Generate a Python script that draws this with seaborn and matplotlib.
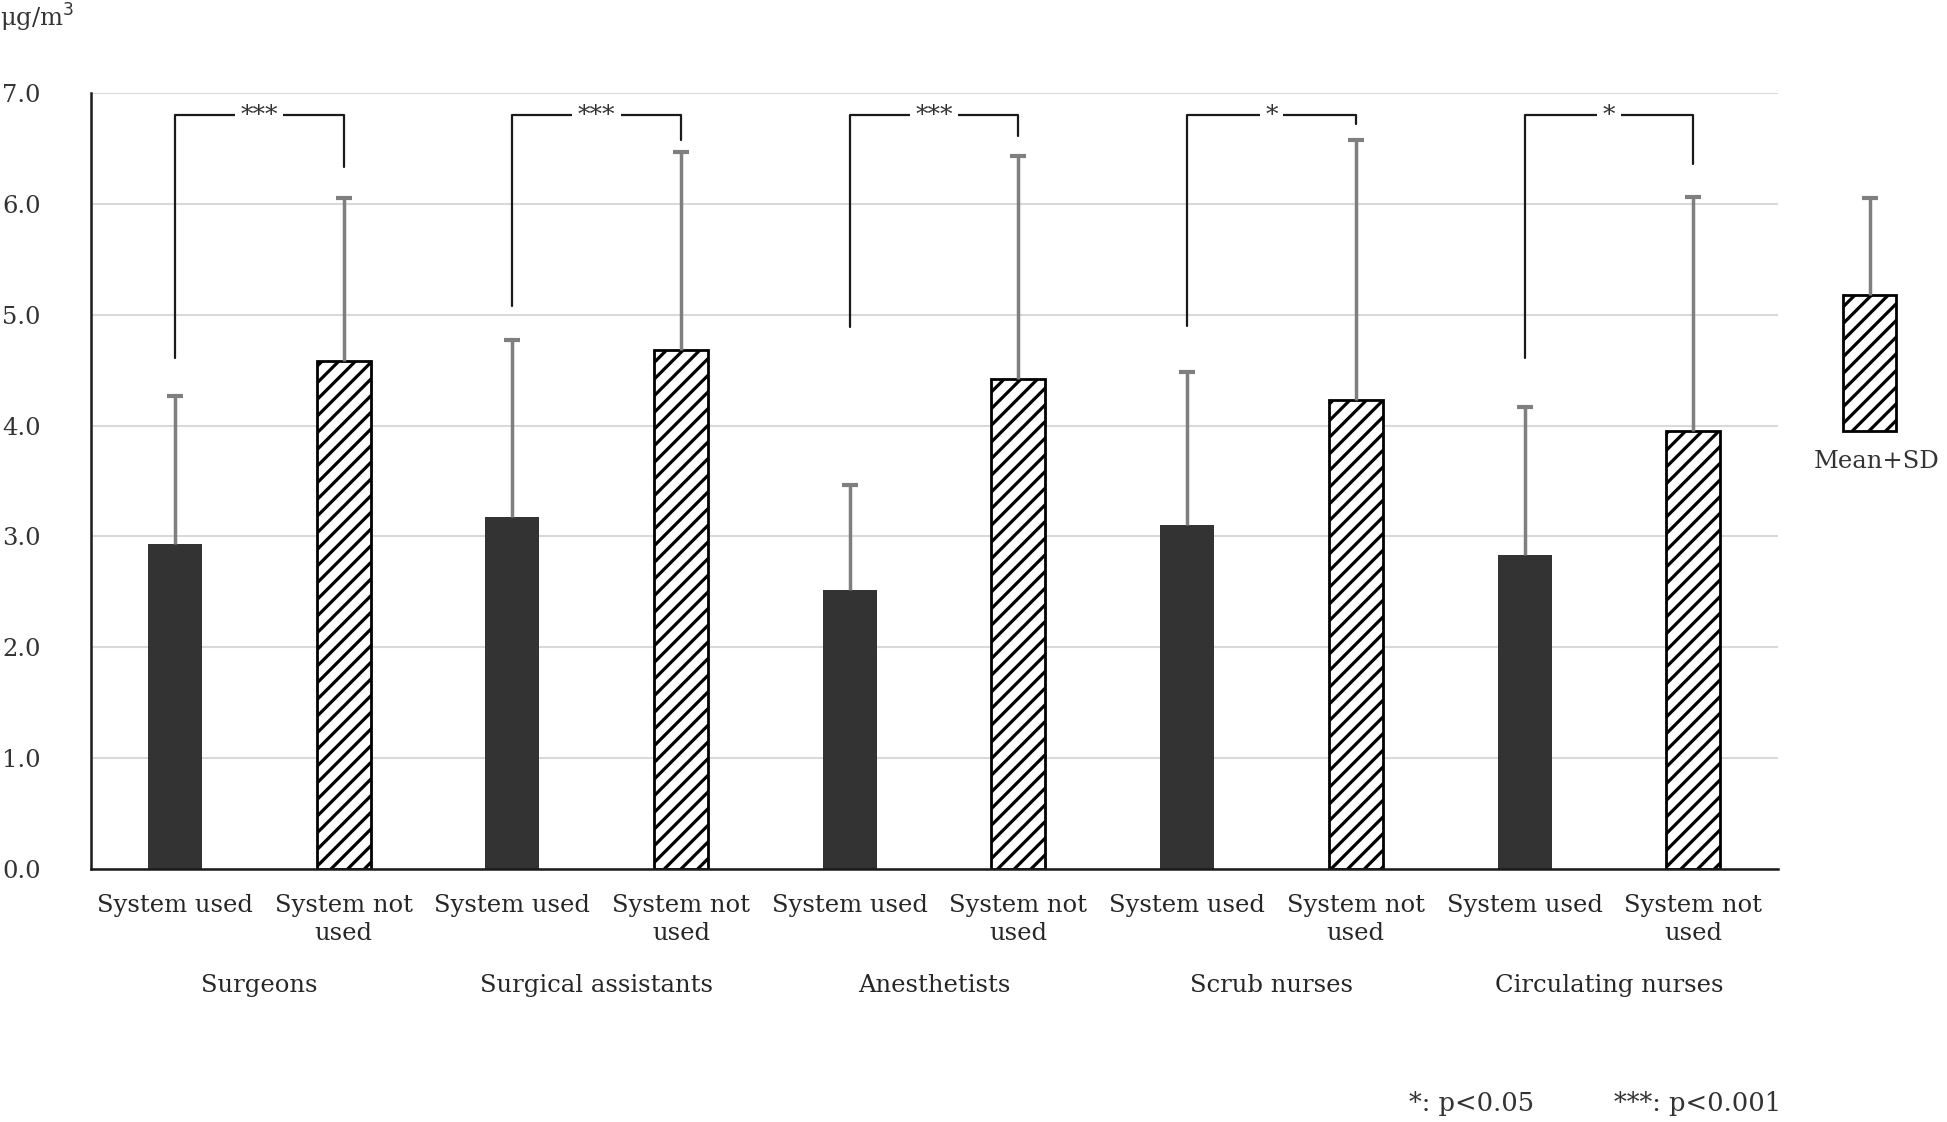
import pandas as pd
import numpy as np
import matplotlib
matplotlib.use("Agg")
import matplotlib.pyplot as plt
import seaborn as sns

groups = ['Surgeons', 'Surgical assistants', 'Anesthetists', 'Scrub nurses', 'Circulating nurses']
conditions = ['System used', 'System not used']
tick_labels = ['System used', 'System not\nused']
mean_used = [2.93, 3.18, 2.52, 3.10, 2.83]
sd_used = [1.34, 1.59, 0.94, 1.38, 1.34]
mean_not = [4.58, 4.68, 4.42, 4.23, 3.95]
sd_not = [1.47, 1.79, 2.01, 2.35, 2.11]
sig_labels = ['***', '***', '***', '*', '*']
bracket_left = [4.61, 5.08, 4.89, 4.90, 4.61]
bracket_right = [6.33, 6.58, 6.61, 6.72, 6.36]
bracket_top = 6.80
yticks = [0.0, 1.0, 2.0, 3.0, 4.0, 5.0, 6.0, 7.0]

rows = []
for i, g in enumerate(groups):
    rows.append({'bar': g + '|used', 'group': g, 'condition': conditions[0], 'mean': mean_used[i], 'sd': sd_used[i]})
    rows.append({'bar': g + '|not', 'group': g, 'condition': conditions[1], 'mean': mean_not[i], 'sd': sd_not[i]})
df = pd.DataFrame(rows)

sns.set_style("white")
plt.rcParams['font.family'] = ['DejaVu Serif']
plt.rcParams['hatch.linewidth'] = 2.3
plt.rcParams['hatch.color'] = 'black'

fig = plt.figure(figsize=(19.47, 11.22), dpi=100)
ax = fig.add_axes([0.0465, 0.2255, 0.8665, 0.6915])

sns.barplot(data=df, x='bar', y='mean', hue='condition', order=list(df['bar']),
            hue_order=conditions, palette={conditions[0]: '#333333', conditions[1]: 'white'},
            dodge=False, width=0.32, errorbar=None, legend=False, ax=ax)

patches = sorted(ax.patches, key=lambda p: p.get_x())
xs = []
for k, p in enumerate(patches):
    xs.append(p.get_x() + p.get_width() / 2)
    if k % 2 == 1:
        p.set_hatch('//')
        p.set_edgecolor('black')
        p.set_linewidth(2)
    else:
        p.set_edgecolor('#333333')
        p.set_linewidth(0)

eb = ax.errorbar(xs, df['mean'], yerr=[np.zeros(len(df)), df['sd']], fmt='none',
                 ecolor='#7f7f7f', elinewidth=2.5, capsize=5.5, capthick=3, zorder=3)
eb[1][0].set_visible(False)

# significance brackets
for i, g in enumerate(groups):
    xl, xr = xs[2 * i], xs[2 * i + 1]
    ax.plot([xl, xl, xr, xr], [bracket_left[i], bracket_top, bracket_top, bracket_right[i]],
            color='#1a1a1a', lw=1.6, zorder=4)
    ax.text((xl + xr) / 2, bracket_top, sig_labels[i], ha='center', va='center', fontsize=18,
            color='#333333', zorder=5,
            bbox=dict(facecolor='white', edgecolor='none', pad=4))

ax.set_ylim(0, 7)
ax.set_xlim(-0.5, 9.5)
ax.set_yticks(yticks)
ax.set_yticklabels([f'{v:.1f}' for v in yticks], fontsize=17.5, color='#333333')
ax.set_xticks(range(10))
ax.set_xticklabels(tick_labels * 5, fontsize=17.5, linespacing=1.3)
ax.tick_params(axis='both', length=0)
ax.tick_params(axis='y', pad=36)
ax.tick_params(axis='x', pad=18)
ax.grid(axis='y', color='#d9d9d9', lw=1.5)
ax.set_axisbelow(True)
for s in ['top', 'right']:
    ax.spines[s].set_visible(False)
for s in ['left', 'bottom']:
    ax.spines[s].set_color('#1a1a1a')
    ax.spines[s].set_linewidth(1.8)
ax.set_xlabel('')
ax.set_ylabel('')

for i, g in enumerate(groups):
    ax.text(2 * i + 0.5, -0.15, g, transform=ax.get_xaxis_transform(), ha='center', va='center',
            fontsize=17.5)

fig.text(0.0, 0.984, 'μg/m$^3$', ha='left', va='center', fontsize=17.5, color='#333333')

# legend key
lax = fig.add_axes([1843 / 1947, (1122 - 431) / 1122, 53 / 1947, 233 / 1122])
lax.bar([0], [0.584], width=1.0, color='white', edgecolor='black', hatch='//', lw=2)
leb = lax.errorbar([0], [0.584], yerr=[[0], [0.416]], fmt='none', ecolor='#7f7f7f',
                   elinewidth=2.5, capsize=5.5, capthick=3)
leb[1][0].set_visible(False)
lax.set_xlim(-0.5, 0.5)
lax.set_ylim(0, 1.0)
lax.axis('off')
for a in lax.get_children():
    if hasattr(a, 'set_clip_on'):
        a.set_clip_on(False)
fig.text(1877 / 1947, 1 - 462 / 1122, 'Mean+SD', ha='center', va='center', fontsize=17.5, color='#333333')

fig.text(1409 / 1947, 1 - 1103 / 1122, '*: p<0.05', ha='left', va='center', fontsize=18.5, color='#333333')
fig.text(1614 / 1947, 1 - 1103 / 1122, '***: p<0.001', ha='left', va='center', fontsize=18.5, color='#333333')

fig.savefig('out.png', dpi=100)
